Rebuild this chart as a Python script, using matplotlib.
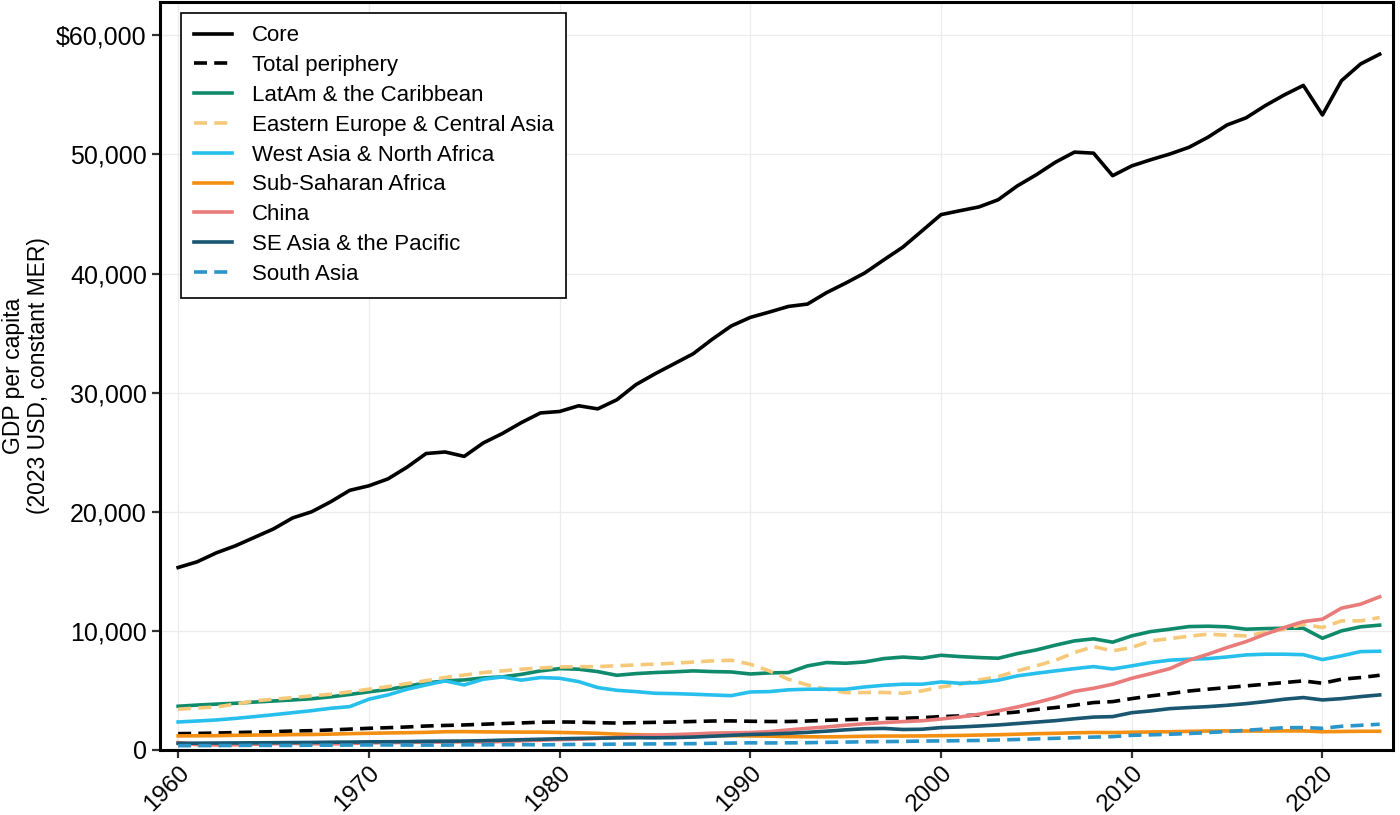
import matplotlib
matplotlib.use("Agg")
import matplotlib.pyplot as plt
from matplotlib.ticker import FuncFormatter

plt.rcParams['font.family'] = ['Liberation Sans', 'DejaVu Sans']

years = list(range(1960, 2024))

core = [15320, 15800, 16550, 17140, 17850, 18560, 19480, 20000, 20840, 21800,
        22180, 22760, 23740, 24890, 25020, 24650, 25780, 26570, 27490, 28300,
        28420, 28900, 28640, 29400, 30670, 31580, 32420, 33260, 34480, 35600,
        36320, 36770, 37240, 37440, 38400, 39200, 40050, 41150, 42220, 43580,
        44950, 45280, 45600, 46200, 47360, 48300, 49350, 50200, 50110, 48220,
        49040, 49560, 50040, 50600, 51450, 52480, 53080, 54100, 55000, 55800,
        53320, 56200, 57600, 58420]

periphery = [1370, 1390, 1420, 1460, 1500, 1540, 1590, 1620, 1680, 1750,
             1820, 1870, 1930, 2010, 2060, 2100, 2160, 2220, 2270, 2330,
             2350, 2340, 2290, 2260, 2290, 2320, 2350, 2390, 2430, 2440,
             2410, 2390, 2390, 2430, 2490, 2540, 2590, 2650, 2660, 2710,
             2800, 2860, 2940, 3050, 3190, 3400, 3560, 3760, 3980, 4060,
             4310, 4540, 4730, 4950, 5100, 5240, 5380, 5520, 5660, 5800,
             5600, 5940, 6080, 6270]

latam = [3670, 3770, 3850, 3920, 4020, 4110, 4200, 4300, 4460, 4660,
         4880, 5080, 5350, 5620, 5800, 5880, 6050, 6140, 6350, 6640,
         6830, 6780, 6580, 6270, 6410, 6500, 6560, 6640, 6580, 6550,
         6380, 6470, 6500, 7060, 7340, 7280, 7390, 7670, 7800, 7700,
         7950, 7840, 7760, 7700, 8090, 8400, 8800, 9160, 9330, 9050,
         9580, 9940, 10140, 10360, 10390, 10340, 10140, 10190, 10220, 10220,
         9380, 10000, 10340, 10480]

east_europe = [3420, 3520, 3610, 3850, 4120, 4260, 4400, 4540, 4680, 4880,
               5100, 5320, 5570, 5820, 6080, 6290, 6500, 6640, 6780, 6880,
               6970, 6990, 7000, 7070, 7140, 7210, 7280, 7380, 7480, 7530,
               7200, 6640, 5940, 5460, 5100, 4820, 4820, 4830, 4760, 4960,
               5290, 5520, 5880, 6160, 6640, 7060, 7530, 8180, 8680, 8320,
               8600, 9160, 9350, 9550, 9720, 9640, 9580, 9860, 10140, 10560,
               10280, 10840, 10840, 11120]

west_asia = [2350, 2430, 2520, 2650, 2800, 2960, 3130, 3300, 3500, 3640,
             4260, 4620, 5100, 5460, 5800, 5460, 5940, 6130, 5860, 6080,
             6020, 5740, 5240, 5010, 4900, 4760, 4730, 4680, 4620, 4560,
             4870, 4900, 5050, 5100, 5100, 5100, 5290, 5430, 5520, 5520,
             5710, 5600, 5660, 5860, 6220, 6440, 6640, 6830, 7000, 6800,
             7060, 7340, 7540, 7620, 7670, 7810, 7980, 8040, 8040, 8000,
             7590, 7900, 8260, 8290]

ssa = [1180, 1190, 1200, 1230, 1250, 1260, 1290, 1300, 1330, 1370,
       1400, 1430, 1450, 1480, 1530, 1540, 1520, 1510, 1500, 1500,
       1470, 1440, 1400, 1330, 1280, 1250, 1230, 1220, 1210, 1200,
       1180, 1160, 1120, 1110, 1100, 1120, 1150, 1170, 1170, 1180,
       1200, 1220, 1250, 1280, 1320, 1370, 1400, 1440, 1470, 1460,
       1490, 1510, 1530, 1560, 1590, 1600, 1590, 1590, 1600, 1600,
       1530, 1550, 1570, 1570]

china = [620, 450, 420, 440, 480, 520, 550, 520, 500, 540,
         600, 620, 630, 660, 660, 690, 670, 710, 770, 820,
         870, 900, 970, 1060, 1200, 1250, 1290, 1340, 1410, 1440,
         1460, 1540, 1680, 1820, 1930, 2080, 2200, 2300, 2380, 2450,
         2600, 2770, 3000, 3280, 3610, 3980, 4400, 4920, 5180, 5520,
         6020, 6410, 6830, 7540, 8040, 8600, 9100, 9720, 10280, 10780,
         10980, 11910, 12240, 12860]

se_asia = [560, 570, 580, 590, 600, 610, 620, 630, 650, 660,
           680, 690, 700, 730, 740, 750, 780, 820, 860, 900,
           940, 970, 990, 1010, 1030, 1020, 1040, 1080, 1150, 1230,
           1300, 1340, 1400, 1480, 1580, 1690, 1780, 1810, 1720, 1740,
           1880, 1930, 2010, 2100, 2220, 2340, 2460, 2620, 2760, 2800,
           3130, 3280, 3470, 3560, 3640, 3750, 3890, 4060, 4260, 4400,
           4200, 4310, 4480, 4620]

south_asia = [360, 365, 370, 380, 390, 380, 380, 400, 400, 410,
              420, 420, 410, 410, 410, 430, 430, 440, 450, 430,
              450, 470, 470, 490, 500, 510, 520, 530, 560, 580,
              600, 590, 600, 610, 640, 660, 690, 700, 720, 750,
              760, 780, 800, 840, 880, 930, 980, 1030, 1080, 1120,
              1230, 1270, 1320, 1380, 1460, 1550, 1650, 1760, 1870, 1880,
              1820, 1990, 2070, 2160]

series = [
    ("Core", core, "black", "-"),
    ("Total periphery", periphery, "black", "--"),
    ("LatAm & the Caribbean", latam, "#0f8a6b", "-"),
    ("Eastern Europe & Central Asia", east_europe, "#f6c97a", "--"),
    ("West Asia & North Africa", west_asia, "#27c0ec", "-"),
    ("Sub-Saharan Africa", ssa, "#f38f12", "-"),
    ("China", china, "#ea7b7b", "-"),
    ("SE Asia & the Pacific", se_asia, "#19566f", "-"),
    ("South Asia", south_asia, "#2a95c8", "--"),
]

fig = plt.figure(figsize=(14, 8.15), dpi=100)
ax = fig.add_axes([0.1143, 0.0798, 0.8807, 0.9177])

for name, vals, color, ls in series:
    line, = ax.plot(years, vals, color=color, linestyle=ls, lw=2.6, label=name)
    if ls == "--":
        line.set_dashes((3.6, 2.0))

ax.set_xlim(1959.05, 2023.7)
ax.set_ylim(0, 62800)
ax.set_xticks(range(1960, 2021, 10))
ax.set_yticks(range(0, 60001, 10000))

def fmt(v, pos):
    if v == 60000:
        return "${:,.0f}".format(v)
    return "{:,.0f}".format(v)

ax.yaxis.set_major_formatter(FuncFormatter(fmt))
ax.grid(True, color="#ececec", lw=0.9)
ax.set_axisbelow(True)
for s in ax.spines.values():
    s.set_linewidth(2.2)
    s.set_color("black")
ax.tick_params(axis="y", labelsize=18, width=1.6, length=6, color="#333333")
ax.tick_params(axis="x", labelsize=17.5, width=1.6, length=6, color="#333333", pad=2.5)
plt.setp(ax.get_xticklabels(), rotation=45, ha="right", rotation_mode="anchor")

ax.set_ylabel("GDP per capita\n(2023 USD, constant MER)", fontsize=16.5, linespacing=1.1)
ax.yaxis.set_label_coords(-0.089, 0.5)

leg = ax.legend(loc="upper left", bbox_to_anchor=(0.017, 0.986), fontsize=16,
                frameon=True, fancybox=False, framealpha=1, edgecolor="black",
                handlelength=1.7, handletextpad=0.9, labelspacing=0.395,
                borderpad=0.58, borderaxespad=0)
leg.get_frame().set_linewidth(1.2)

fig.savefig("out.png", dpi=100)
